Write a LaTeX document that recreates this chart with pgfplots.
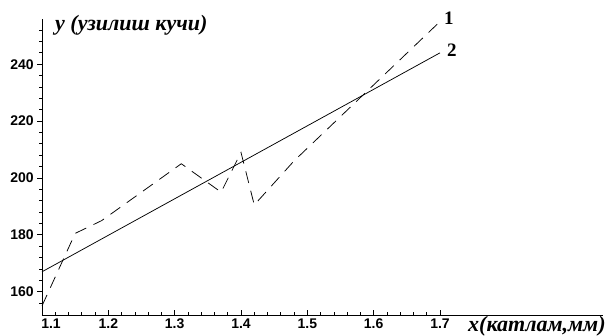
\documentclass[border=0pt]{standalone}
\usepackage{fontspec}
\setmainfont{Liberation Serif}
\newfontfamily\sansb{Liberation Sans}
\usepackage{pgfplots}
\pgfplotsset{compat=1.18}
\begin{document}
\begin{tikzpicture}
\pgfplotsset{
  common/.style={
    scale only axis, width=560.5pt, height=295.7pt,
    xmin=1.1, xmax=1.945, ymin=151.8, ymax=255.8,
    axis line style={black, line width=0.8pt},
    tick style={black, line width=0.7pt},
    major tick length=4.7pt, minor tick length=2.6pt,
    ticklabel style={font=\sansb\bfseries\fontsize{14}{14}\selectfont},
    /pgf/number format/assume math mode=true,
  }
}
\begin{axis}[common,
  axis x line*=bottom, axis y line=none, tick align=inside,
  xtick={1.2,1.3,1.4,1.5,1.6,1.7},
  extra x ticks={1.1},
  extra x tick style={xticklabel style={xshift=9pt}},
  minor xtick={1.12,1.14,1.16,1.18,1.22,1.24,1.26,1.28,1.32,1.34,1.36,1.38,1.42,1.44,1.46,1.48,1.52,1.54,1.56,1.58,1.62,1.64,1.66,1.68},
  ]
\addplot[black, line width=0.75pt, dash pattern=on 12pt off 8pt] coordinates {
  (1.10,155) (1.15,180.5) (1.19,185) (1.31,205) (1.37,195)
  (1.40,209) (1.42,190.5) (1.48,206) (1.70,255)
};
\addplot[black, line width=0.75pt] coordinates {(1.10,167) (1.70,244)};
\end{axis}
\begin{axis}[common,
  axis x line=none, axis y line*=left, tick align=outside,
  ytick={160,180,200,220,240},
  minor ytick={156,164,168,172,176,184,188,192,196,204,208,212,216,224,228,232,236,244,248,252},
  ]
\end{axis}
\node[anchor=base west, inner sep=0pt, font=\bfseries\itshape\fontsize{22}{22}\selectfont]
  at ([shift={(13pt,284pt)}]current axis.south west) {y (узилиш кучи)};
\node[anchor=base west, inner sep=0pt, font=\bfseries\itshape\fontsize{22}{22}\selectfont]
  at ([shift={(426pt,-17pt)}]current axis.south west) {x(катлам,мм)};
\node[anchor=base west, inner sep=0pt, font=\bfseries\fontsize{19}{19}\selectfont]
  at ([shift={(402pt,290pt)}]current axis.south west) {1};
\node[anchor=base west, inner sep=0pt, font=\bfseries\fontsize{19}{19}\selectfont]
  at ([shift={(405pt,258pt)}]current axis.south west) {2};
\pgfresetboundingbox
\path[use as bounding box] ([shift={(-42pt,-21pt)}]current axis.south west) rectangle ++(608pt,336pt);
\end{tikzpicture}
\end{document}
